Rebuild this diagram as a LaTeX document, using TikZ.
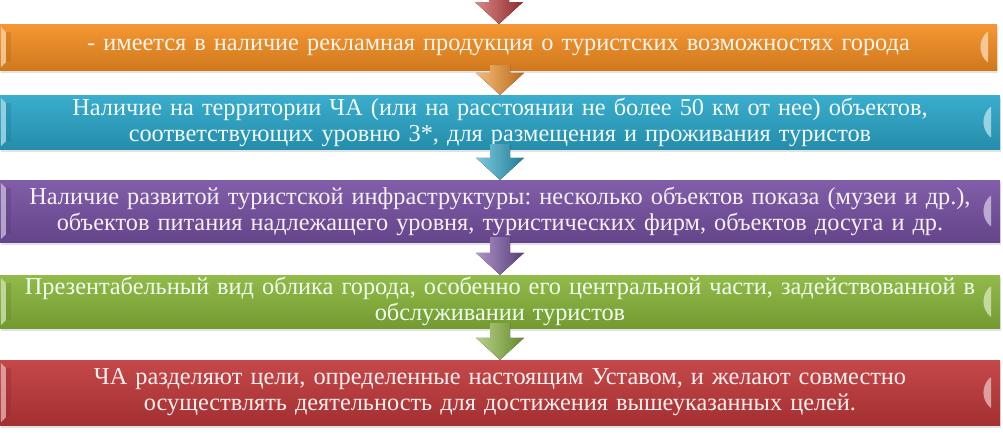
\documentclass[tikz,border=0pt]{standalone}
\usepackage{fontspec}
\setmainfont{Liberation Serif}
\usetikzlibrary{calc,shadows}
\definecolor{cOr}{HTML}{F48E22}
\definecolor{cTe}{HTML}{2AA6C9}
\definecolor{cPu}{HTML}{7650A2}
\definecolor{cGr}{HTML}{88B53A}
\definecolor{cRe}{HTML}{C0383A}
\newcommand\blockarrow[3]{%
  \fill[left color=#3!60!white, middle color=#3!90!white, right color=#3!75!black]
    let \p1=(#1), \p2=(#2) in
    ({\x2-10pt},{\y1+5pt}) -- ({\x2+10pt},{\y1+5pt}) -- ({\x2+10pt},{\y2+22pt}) --
    ({\x2+24pt},{\y2+22pt}) -- (\x2,\y2) -- ({\x2-24pt},{\y2+22pt}) --
    ({\x2-10pt},{\y2+22pt}) -- cycle;}
\newcommand\bevel[2]{%
  \fill[#2!40!white, opacity=.8] ($(#1.north west)+(1,3)$) -- ($(#1.north west)+(6,8)$)
    -- ($(#1.south west)+(6,-8)$) -- ($(#1.south west)+(1,-3)$) -- cycle;
  \fill[#2!75!black, opacity=.35] ($(#1.north west)+(6,8)$) -- ($(#1.north west)+(11,8)$)
    -- ($(#1.south west)+(11,-8)$) -- ($(#1.south west)+(6,-8)$) -- cycle;
  \fill[#2!35!white, opacity=.8] ($(#1.east)+(-10,-15)$) .. controls ($(#1.east)+(-19,-7)$) and ($(#1.east)+(-19,7)$) .. ($(#1.east)+(-10,15)$) -- ($(#1.east)+(-9,15)$) -- ($(#1.east)+(-9,-15)$) -- cycle;}
\begin{document}
\frenchspacing
\begin{tikzpicture}[x=1pt,y=-1pt,
  bar/.style={rectangle, inner sep=0pt, text width=990pt, align=center,
    font=\fontsize{24.3}{26}\selectfont,
    drop shadow={opacity=0.22, shadow xshift=1pt, shadow yshift=-3pt}},
  barcol/.style={top color=#1!92!white, middle color=#1, bottom color=#1!85!black}]
\useasboundingbox (0,0) rectangle (1003,432);
\clip (0,0) rectangle (1003,432);
\node[bar, barcol=cOr, minimum width=997pt, minimum height=46pt, text=white!92!orange]
  (o) at (498.5,47) {- имеется в наличие рекламная продукция о туристских возможностях города};
\node[bar, barcol=cTe, minimum width=1000pt, minimum height=54pt, text=white!95!cyan]
  (t) at (500,122) {Наличие на территории ЧА (или на расстоянии не более 50 км от нее) объектов,\\ соответствующих уровню 3*, для размещения и проживания туристов};
\node[bar, barcol=cPu, minimum width=1000pt, minimum height=62pt, text=white!94!violet]
  (p) at (500,211) {Наличие развитой туристской инфраструктуры: несколько объектов показа (музеи и др.),\\ объектов питания надлежащего уровня, туристических фирм, объектов досуга и др.};
\node[bar, barcol=cGr, minimum width=1000pt, minimum height=53pt, text=white!94!green]
  (g) at (500,301.5) {Презентабельный вид облика города, особенно его центральной части, задействованной в\\ обслуживании туристов};
\node[bar, barcol=cRe, minimum width=1000pt, minimum height=65pt, text=white!94!red]
  (r) at (500,392.5) {ЧА разделяют цели, определенные настоящим Уставом, и желают совместно\\ осуществлять деятельность для достижения вышеуказанных целей.};
\bevel{o}{cOr}\bevel{t}{cTe}\bevel{p}{cPu}\bevel{g}{cGr}\bevel{r}{cRe}
\coordinate (top) at (499,-8);
\coordinate (ot) at (499,24);
\blockarrow{top}{ot}{cRe}
\blockarrow{o.south}{t.north}{cOr}
\blockarrow{t.south}{p.north}{cTe}
\blockarrow{p.south}{g.north}{cPu}
\blockarrow{g.south}{r.north}{cGr}
\end{tikzpicture}
\end{document}
